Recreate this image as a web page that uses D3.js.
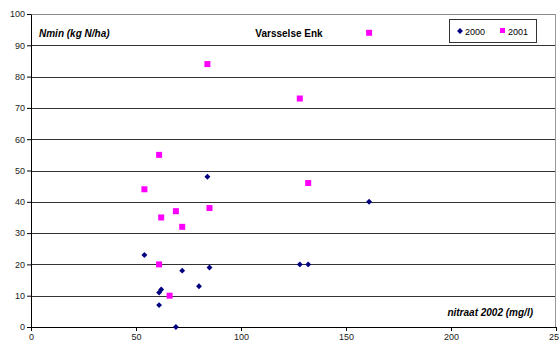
<!DOCTYPE html>
<html>
<head>
<meta charset="utf-8">
<script src="https://cdn.jsdelivr.net/npm/d3@7"></script>
<style>
  body { margin: 0; background: #fff; }
  svg { font-family: "Liberation Sans", Arial, sans-serif; }
  .axis text { font-size: 9px; fill: #222; }
  .axis path, .axis line { stroke: #000; }
</style>
</head>
<body>
<svg class="chart"></svg>
<script>
const nitraat2000 = [54, 61, 61, 62, 69, 72, 80, 85, 84, 128, 132, 161];
const nmin2000 = [23, 7, 11, 12, 0, 18, 13, 19, 48, 20, 20, 40];
const nitraat2001 = [61, 66, 61, 54, 62, 69, 72, 85, 132, 84, 128, 161];
const nmin2001 = [20, 10, 55, 44, 35, 37, 32, 38, 46, 84, 73, 94];
const xTicks = [0, 50, 100, 150, 200, 250];
const yTicks = [0, 10, 20, 30, 40, 50, 60, 70, 80, 90, 100];

const W = 559, H = 343;
const margin = {top: 14, right: 3, bottom: 16, left: 31};
const width = W - margin.left - margin.right;
const height = H - margin.top - margin.bottom;

const x = d3.scaleLinear().domain([0, 250]).range([0, width]);
const y = d3.scaleLinear().domain([0, 100]).range([height, 0]);

const svg = d3.select('.chart').attr('width', W).attr('height', H);
const chart = svg.append('g')
    .attr('transform', `translate(${ margin.left },${ margin.top })`);

// gridlines
chart.append('g')
    .selectAll('line')
    .data(yTicks.filter((d) => d > 0))
  .enter().append('line')
    .attr('x1', 0).attr('x2', width)
    .attr('y1', (d) => Math.round(y(d)) + 0.5)
    .attr('y2', (d) => Math.round(y(d)) + 0.5)
    .attr('stroke', (d) => d === 100 ? '#888' : '#333')
    .attr('stroke-width', 1);

// right border
chart.append('line')
    .attr('x1', width - 0.5).attr('x2', width - 0.5)
    .attr('y1', y(100)).attr('y2', y(0))
    .attr('stroke', '#999');

const xAxis = d3.axisBottom(x).tickValues(xTicks).tickSize(4).tickSizeOuter(0);
const yAxis = d3.axisLeft(y).tickValues(yTicks).tickSize(4).tickSizeOuter(0);

chart.append('g')
    .attr('class', 'x axis')
    .attr('transform', `translate(0,${ height })`)
    .call(xAxis)
    .selectAll('text').attr('y', 5).attr('dy', '0.9em');

chart.append('g')
    .attr('class', 'y axis')
    .call(yAxis)
    .selectAll('text').attr('x', -6);

// points 2001 (squares)
chart.append('g')
    .selectAll('rect')
    .data(nitraat2001.map((d, i) => ({x: d, y: nmin2001[i]})))
  .enter().append('rect')
    .attr('x', (d) => x(d.x) - 3)
    .attr('y', (d) => y(d.y) - 3)
    .attr('width', 6).attr('height', 6)
    .attr('fill', '#ff00ff');

// points 2000 (diamonds)
const diamond = d3.symbol().type(d3.symbolDiamond2).size(22);
chart.append('g')
    .selectAll('path')
    .data(nitraat2000.map((d, i) => ({x: d, y: nmin2000[i]})))
  .enter().append('path')
    .attr('d', diamond)
    .attr('transform', (d) => `translate(${ x(d.x) },${ y(d.y) })`)
    .attr('fill', '#000080');

// titles
svg.append('text')
    .attr('x', 39).attr('y', 37)
    .attr('font-size', 10).attr('font-weight', 'bold').attr('font-style', 'italic')
    .text('Nmin (kg N/ha)');

svg.append('text')
    .attr('x', 289).attr('y', 37)
    .attr('text-anchor', 'middle')
    .attr('font-size', 10).attr('font-weight', 'bold')
    .text('Varsselse Enk');

svg.append('text')
    .attr('x', 533).attr('y', 316)
    .attr('text-anchor', 'end')
    .attr('font-size', 10).attr('font-weight', 'bold').attr('font-style', 'italic')
    .text('nitraat 2002 (mg/l)');

// legend
const legend = svg.append('g').attr('transform', 'translate(449,19)');
legend.append('rect')
    .attr('x', 0.5).attr('y', 0.5)
    .attr('width', 87).attr('height', 23)
    .attr('fill', '#fff').attr('stroke', '#333');
legend.append('path')
    .attr('d', diamond)
    .attr('transform', 'translate(11,12)')
    .attr('fill', '#000080');
legend.append('text')
    .attr('x', 16).attr('y', 15.5)
    .attr('font-size', 9)
    .text('2000');
legend.append('rect')
    .attr('x', 51).attr('y', 9)
    .attr('width', 5).attr('height', 5)
    .attr('fill', '#ff00ff');
legend.append('text')
    .attr('x', 59).attr('y', 15.5)
    .attr('font-size', 9)
    .text('2001');
</script>
</body>
</html>
